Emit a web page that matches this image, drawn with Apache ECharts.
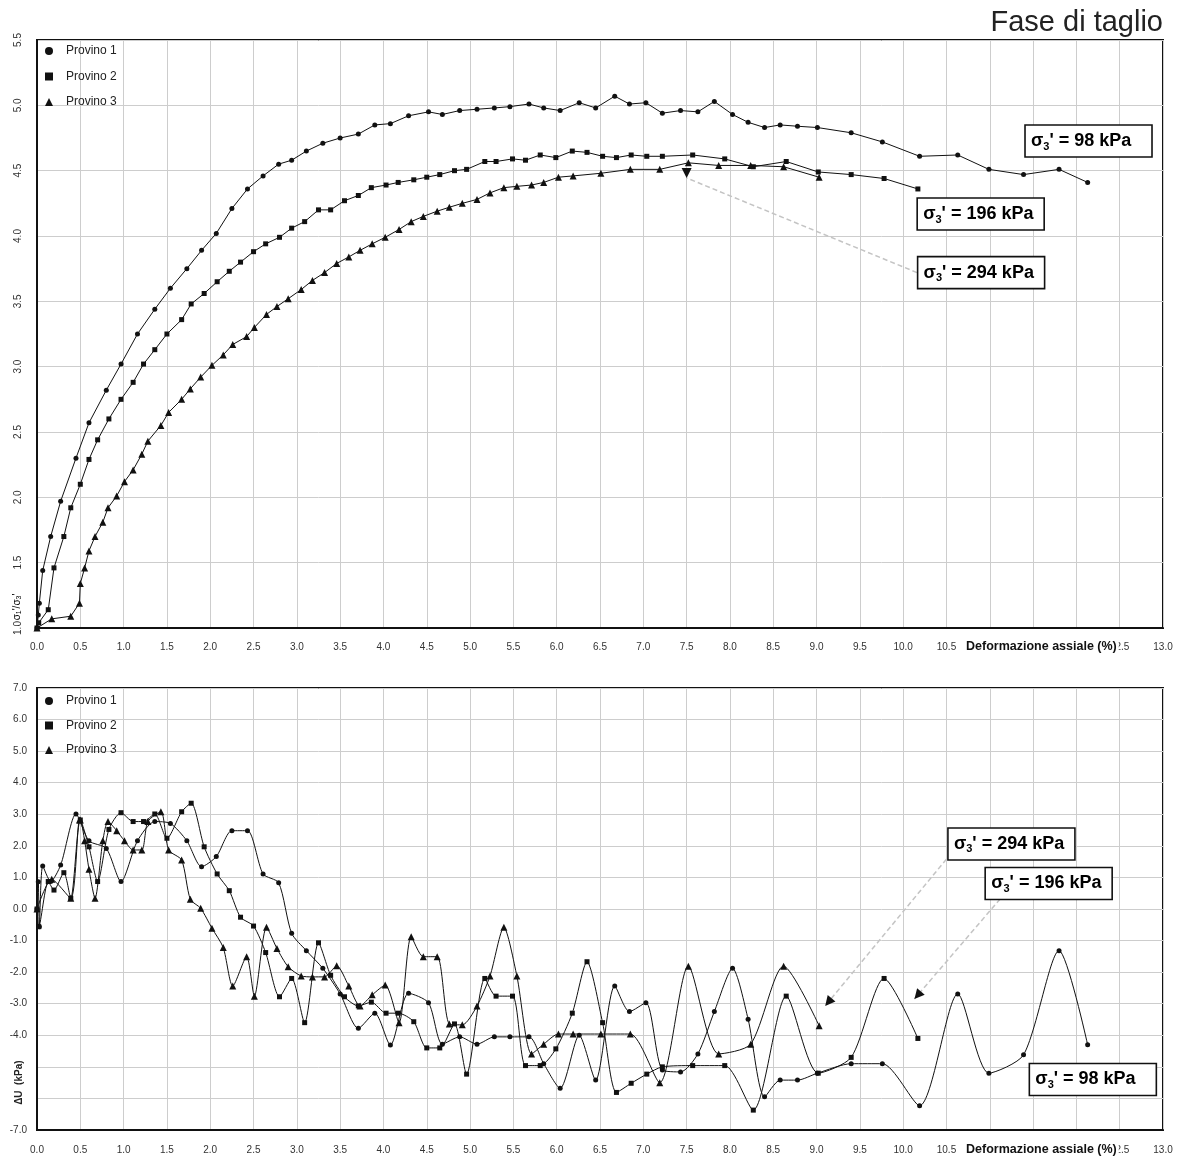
<!DOCTYPE html>
<html>
<head>
<meta charset="utf-8">
<title>Fase di taglio</title>
<script src="https://cdn.jsdelivr.net/npm/echarts@6/dist/echarts.min.js"></script>
<style>
  html, body { margin: 0; padding: 0; background: #ffffff; }
  #chart { width: 1183px; height: 1158px; }
</style>
</head>
<body>
<div id="chart"></div>
<script>
// Triaxial shear phase: stress ratio and pore pressure change vs axial strain

const seriesNames = ['Provino 1', 'Provino 2', 'Provino 3'];
const seriesSymbols = ['circle', 'rect', 'triangle'];
const pressures = ['98', '196', '294'];

// Provino 1 (σ3' = 98 kPa)
const strain1 = [0, 0.015, 0.027, 0.066, 0.158, 0.273, 0.45, 0.60, 0.80, 0.97,
  1.16, 1.36, 1.54, 1.73, 1.90, 2.07, 2.25, 2.43, 2.61, 2.79,
  2.94, 3.11, 3.30, 3.50, 3.71, 3.90, 4.08, 4.29, 4.52, 4.68,
  4.88, 5.08, 5.28, 5.46, 5.68, 5.85, 6.04, 6.26, 6.45, 6.67,
  6.84, 7.03, 7.22, 7.43, 7.63, 7.82, 8.03, 8.21, 8.40, 8.58,
  8.78, 9.01, 9.40, 9.76, 10.19, 10.63, 10.99, 11.39, 11.80, 12.13];
const ratio1 = [1.00, 1.10, 1.19, 1.44, 1.70, 1.97, 2.30, 2.57, 2.82, 3.02,
  3.25, 3.44, 3.60, 3.75, 3.89, 4.02, 4.21, 4.36, 4.46, 4.55,
  4.58, 4.65, 4.71, 4.75, 4.78, 4.85, 4.86, 4.92, 4.95, 4.93,
  4.96, 4.97, 4.98, 4.99, 5.01, 4.98, 4.96, 5.02, 4.98, 5.07,
  5.01, 5.02, 4.94, 4.96, 4.95, 5.03, 4.93, 4.87, 4.83, 4.85,
  4.84, 4.83, 4.79, 4.72, 4.61, 4.62, 4.51, 4.47, 4.51, 4.41];
const du1 = [0, 0.86, -0.56, 1.36, 0.87, 1.39, 3.01, 2.16, 1.92, 0.87,
  2.16, 2.77, 2.71, 2.16, 1.34, 1.66, 2.48, 2.48, 1.11, 0.83,
  -0.77, -1.32, -1.88, -2.69, -3.78, -3.30, -4.31, -2.67, -2.97, -4.28,
  -4.05, -4.28, -4.05, -4.05, -4.05, -4.90, -5.68, -4.00, -5.42, -2.44,
  -3.25, -2.97, -5.10, -5.16, -4.59, -3.25, -1.88, -3.49, -5.95, -5.42,
  -5.42, -5.20, -4.90, -4.90, -6.23, -2.69, -5.20, -4.62, -1.32, -4.30];

// Provino 2 (σ3' = 196 kPa)
const strain2 = [0, 0.02, 0.13, 0.196, 0.31, 0.39, 0.50, 0.60, 0.70, 0.83,
  0.97, 1.11, 1.23, 1.36, 1.50, 1.67, 1.78, 1.93, 2.08, 2.22,
  2.35, 2.50, 2.64, 2.80, 2.94, 3.09, 3.25, 3.39, 3.55, 3.71,
  3.86, 4.03, 4.17, 4.35, 4.50, 4.65, 4.82, 4.96, 5.17, 5.30,
  5.49, 5.64, 5.81, 5.99, 6.18, 6.35, 6.53, 6.69, 6.86, 7.04,
  7.22, 7.57, 7.94, 8.27, 8.65, 9.02, 9.40, 9.78, 10.17];
const ratio2 = [1.00, 1.04, 1.14, 1.46, 1.70, 1.92, 2.10, 2.29, 2.44, 2.60,
  2.75, 2.88, 3.02, 3.13, 3.25, 3.36, 3.48, 3.56, 3.65, 3.73,
  3.80, 3.88, 3.94, 3.99, 4.06, 4.11, 4.20, 4.20, 4.27, 4.31,
  4.37, 4.39, 4.41, 4.43, 4.45, 4.47, 4.50, 4.51, 4.57, 4.57,
  4.59, 4.58, 4.62, 4.60, 4.65, 4.64, 4.61, 4.60, 4.62, 4.61,
  4.61, 4.62, 4.59, 4.53, 4.57, 4.49, 4.47, 4.44, 4.36];
const du2 = [0, -0.56, 0.87, 0.60, 1.15, 0.34, 2.82, 1.97, 0.87, 2.52,
  3.05, 2.77, 2.77, 3.01, 2.24, 3.08, 3.35, 1.97, 1.11, 0.58,
  -0.26, -0.54, -1.38, -2.78, -2.20, -3.60, -1.07, -2.10, -2.78, -3.07,
  -2.95, -3.30, -3.30, -3.57, -4.40, -4.40, -3.64, -5.23, -2.20, -2.76,
  -2.76, -4.96, -4.96, -4.43, -3.30, -1.67, -3.60, -5.81, -5.52, -5.23,
  -5.00, -4.96, -4.96, -6.37, -2.76, -5.20, -4.70, -2.20, -4.10];

// Provino 3 (σ3' = 294 kPa)
const strain3 = [0, 0.17, 0.39, 0.49, 0.50, 0.55, 0.60, 0.67, 0.76, 0.82,
  0.92, 1.01, 1.11, 1.21, 1.28, 1.43, 1.52, 1.67, 1.77, 1.89,
  2.02, 2.15, 2.26, 2.42, 2.51, 2.65, 2.77, 2.90, 3.05, 3.18,
  3.32, 3.46, 3.60, 3.73, 3.87, 4.02, 4.18, 4.32, 4.46, 4.62,
  4.76, 4.91, 5.08, 5.23, 5.39, 5.54, 5.71, 5.85, 6.02, 6.19,
  6.51, 6.85, 7.19, 7.52, 7.87, 8.24, 8.62, 9.03];
const ratio3 = [1.00, 1.07, 1.09, 1.19, 1.34, 1.46, 1.59, 1.70, 1.81, 1.92,
  2.01, 2.12, 2.21, 2.33, 2.43, 2.55, 2.65, 2.75, 2.83, 2.92,
  3.01, 3.09, 3.17, 3.23, 3.30, 3.40, 3.46, 3.52, 3.59, 3.66,
  3.72, 3.79, 3.84, 3.89, 3.94, 3.99, 4.05, 4.11, 4.15, 4.19,
  4.22, 4.25, 4.28, 4.33, 4.37, 4.38, 4.39, 4.41, 4.45, 4.46,
  4.48, 4.51, 4.51, 4.56, 4.54, 4.54, 4.53, 4.45];
const du3 = [0, 0.94, 0.34, 2.82, 2.82, 2.16, 1.26, 0.34, 2.16, 2.77,
  2.48, 2.16, 1.87, 1.87, 2.77, 3.08, 1.87, 1.55, 0.31, 0.02,
  -0.61, -1.22, -2.44, -1.51, -2.76, -0.58, -1.25, -1.83, -2.12, -2.15,
  -2.15, -1.80, -2.44, -3.07, -2.72, -2.41, -3.60, -0.88, -1.51, -1.51,
  -3.64, -3.67, -3.07, -2.12, -0.58, -2.12, -4.59, -4.28, -3.96, -3.96,
  -3.96, -3.96, -5.50, -1.81, -4.59, -4.28, -1.81, -3.70];

// Axis ranges
const strainMin = 0, strainMax = 13, strainStep = 0.5;
const ratioMin = 1.0, ratioMax = 5.5, ratioStep = 0.5;
const duMin = -7, duMax = 7, duStep = 1;

// σ3' label boxes (data coordinates of box centres), in the order 98, 196, 294
const ratioLabelX = [12.14, 10.895, 10.90];
const ratioLabelY = [4.727, 4.168, 3.72];
const duLabelX = [12.19, 11.68, 11.25];
const duLabelY = [-5.40, 0.81, 2.06];

// Leader arrows: [panel, tipX, tipY, tailX, tailY]
const leaders = [
  [0, 7.50, 4.444, 10.16, 3.72],
  [1, 9.10, -3.07, 10.50, 1.58],
  [1, 10.13, -2.85, 11.12, 0.32]
];

const FONT = '"Liberation Sans", Arial, Helvetica, sans-serif';
const INK = '#111111';
const LABEL = '#333333';
const GRIDLINE = '#cdcdcd';

const strains = [strain1, strain2, strain3];
const ratios = [ratio1, ratio2, ratio3];
const dus = [du1, du2, du3];
const symbolSizes = [5, 5, 7];

function pairs(xs, ys) { return xs.map((x, i) => [x, ys[i]]); }

function xAxisFor(grid, margin) {
  return {
    gridIndex: grid, type: 'value', min: strainMin, max: strainMax, interval: strainStep,
    axisLine: { show: true, onZero: false, lineStyle: { color: INK, width: 2 } },
    axisTick: { show: false },
    axisLabel: { margin: margin, fontFamily: FONT, fontSize: 10, color: LABEL,
      formatter: v => v.toFixed(1) },
    splitLine: { show: true, lineStyle: { color: GRIDLINE, width: 1 } }
  };
}

function legendFor(top, gap) {
  return {
    orient: 'vertical', left: 40, top: top, itemGap: gap,
    itemWidth: 8, itemHeight: 8, selectedMode: false,
    textStyle: { fontFamily: FONT, fontSize: 12, color: '#222', lineHeight: 12, padding: [0, 0, 0, 8] },
    data: seriesNames.map((n, i) => ({ name: n, icon: seriesSymbols[i] }))
  };
}

const series = [];
for (let i = 0; i < 3; i++) {
  series.push({
    name: seriesNames[i], type: 'line', xAxisIndex: 0, yAxisIndex: 0,
    data: pairs(strains[i], ratios[i]),
    symbol: seriesSymbols[i], symbolSize: symbolSizes[i], showAllSymbol: true,
    lineStyle: { color: INK, width: 1 }, itemStyle: { color: INK },
    smooth: false, z: 3
  });
}
for (let i = 0; i < 3; i++) {
  series.push({
    name: seriesNames[i], type: 'line', xAxisIndex: 1, yAxisIndex: 1,
    data: pairs(strains[i], dus[i]),
    symbol: seriesSymbols[i], symbolSize: symbolSizes[i], showAllSymbol: true,
    lineStyle: { color: INK, width: 1 }, itemStyle: { color: INK },
    smooth: 0.25, z: 3
  });
}

const option = {
  animation: false,
  backgroundColor: '#ffffff',
  title: {
    text: 'Fase di taglio', right: 15, top: 3,
    textStyle: { fontFamily: FONT, fontSize: 29, fontWeight: 'normal', color: '#222' }
  },
  legend: [legendFor(40, 13.5), legendFor(690, 12.5)],
  grid: [
    { left: 37, top: 40, width: 1126, height: 588, show: true, borderColor: INK, borderWidth: 2, backgroundColor: 'transparent' },
    { left: 37, top: 688, width: 1126, height: 442, show: true, borderColor: INK, borderWidth: 2, backgroundColor: 'transparent' }
  ],
  xAxis: [xAxisFor(0, 14), xAxisFor(1, 15)],
  yAxis: [
    {
      gridIndex: 0, type: 'value', min: ratioMin, max: ratioMax, interval: ratioStep,
      axisLine: { show: true, lineStyle: { color: INK, width: 2 } },
      axisTick: { show: false },
      axisLabel: { rotate: 90, margin: 14, fontFamily: FONT, fontSize: 10, color: LABEL,
        formatter: v => v.toFixed(1) },
      splitLine: { show: true, lineStyle: { color: GRIDLINE, width: 1 } }
    },
    {
      gridIndex: 1, type: 'value', min: duMin, max: duMax, interval: duStep,
      axisLine: { show: true, onZero: false, lineStyle: { color: INK, width: 2 } },
      axisTick: { show: false },
      axisLabel: { margin: 10, fontFamily: FONT, fontSize: 10, color: LABEL,
        formatter: v => (v === -5 || v === -6) ? '' : v.toFixed(1) },
      splitLine: { show: true, lineStyle: { color: GRIDLINE, width: 1 } }
    }
  ],
  series: series
};

const chart = echarts.init(document.getElementById('chart'), null, { renderer: 'canvas' });
chart.setOption(option);

const px = (g, x, y) => chart.convertToPixel({ gridIndex: g }, [x, y]);

const boxRich = {
  b: { fontFamily: FONT, fontSize: 18, fontWeight: 'bold', color: INK, lineHeight: 22 },
  s: { fontFamily: FONT, fontSize: 11, fontWeight: 'bold', color: INK, lineHeight: 11, verticalAlign: 'bottom' }
};

function labelBox(g, x, y, p) {
  const c = px(g, x, y);
  const w = 127, h = 32;
  return [
    { type: 'rect', z: 20, shape: { x: c[0] - w / 2, y: c[1] - h / 2, width: w, height: h },
      style: { fill: '#ffffff', stroke: INK, lineWidth: 1.6 } },
    { type: 'text', z: 21, x: c[0] - w / 2 + 6, y: c[1],
      style: { text: '{b|σ}{s|3}{b|\' = ' + p + ' kPa}', rich: boxRich,
        textAlign: 'left', textVerticalAlign: 'middle', align: 'left', verticalAlign: 'middle' } }
  ];
}

function leader(l) {
  const tip = px(l[0], l[1], l[2]);
  const tail = px(l[0], l[3], l[4]);
  const out = [{
    type: 'line', z: 10,
    shape: { x1: tail[0], y1: tail[1], x2: tip[0], y2: tip[1] },
    style: { stroke: '#c4c4c4', lineWidth: 1.5, lineDash: [5, 3] }
  }];
  // arrowhead: the upper panel's head points straight down, the lower ones follow the leader
  const ang = l[0] === 0 ? Math.PI / 2 : Math.atan2(tip[1] - tail[1], tip[0] - tail[0]);
  const len = 10, half = 5;
  const bx = tip[0] - len * Math.cos(ang), by = tip[1] - len * Math.sin(ang);
  const nx = -Math.sin(ang) * half, ny = Math.cos(ang) * half;
  out.push({
    type: 'polygon', z: 11,
    shape: { points: [[tip[0], tip[1]], [bx + nx, by + ny], [bx - nx, by - ny]] },
    style: { fill: INK }
  });
  return out;
}

const graphics = [];
leaders.forEach(l => graphics.push(...leader(l)));
for (let i = 0; i < 3; i++) {
  graphics.push(...labelBox(0, ratioLabelX[i], ratioLabelY[i], pressures[i]));
  graphics.push(...labelBox(1, duLabelX[i], duLabelY[i], pressures[i]));
}

// x-axis titles, drawn over the last tick labels
[0, 1].forEach(g => {
  const base = px(g, strainMax, g === 0 ? ratioMin : duMin);
  graphics.push({
    type: 'text', z: 30, x: base[0] - 199, y: base[1] + (g === 0 ? 19 : 20),
    style: { text: 'Deformazione assiale (%)', fontFamily: FONT, fontSize: 12.5, fontWeight: 'bold',
      fill: INK, backgroundColor: '#ffffff', padding: [2, 2, 2, 2],
      textAlign: 'left', textVerticalAlign: 'middle', align: 'left', verticalAlign: 'middle' }
  });
});

// y-axis titles
const ratioBase = px(0, strainMin, ratioMin);
graphics.push({
  type: 'text', z: 30, x: ratioBase[0] - 20, y: ratioBase[1] - 21, rotation: Math.PI / 2,
  style: {
    text: '{a|σ}{s|1}{a|\'/σ}{s|3}{a|\'}',
    rich: {
      a: { fontFamily: FONT, fontSize: 10, color: LABEL, lineHeight: 12 },
      s: { fontFamily: FONT, fontSize: 7, color: LABEL, lineHeight: 7, verticalAlign: 'bottom' }
    },
    textAlign: 'center', textVerticalAlign: 'middle', align: 'center', verticalAlign: 'middle'
  }
});
const duMid = px(1, strainMin, -5.5);
graphics.push({
  type: 'text', z: 30, x: duMid[0] - 18, y: duMid[1], rotation: Math.PI / 2,
  style: { text: 'ΔU  (kPa)', fontFamily: FONT, fontSize: 10, fontWeight: 'bold', fill: '#222',
    textAlign: 'center', textVerticalAlign: 'middle', align: 'center', verticalAlign: 'middle' }
});

chart.setOption({ graphic: { elements: graphics } });
</script>
</body>
</html>
